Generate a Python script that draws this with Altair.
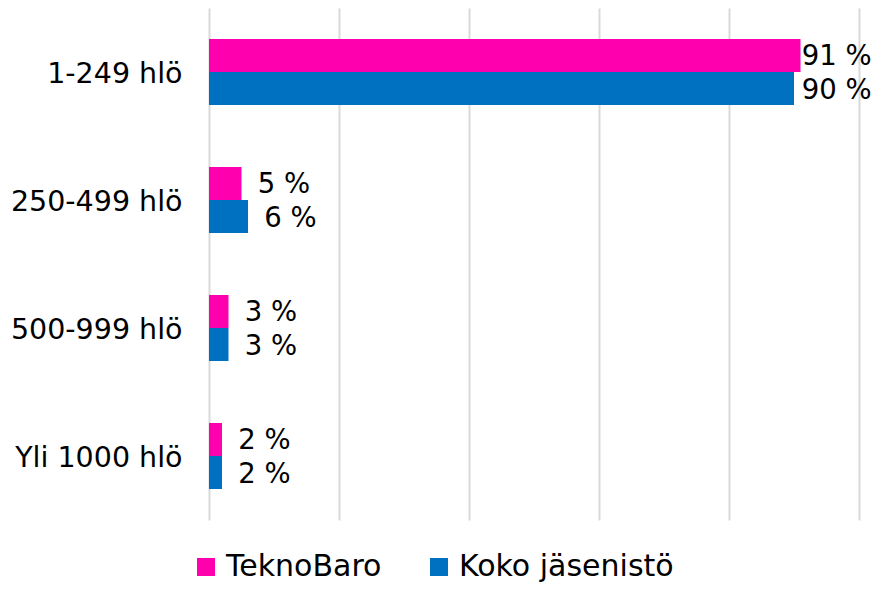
import altair as alt
import pandas as pd

categories = ["1-249 hlö", "250-499 hlö", "500-999 hlö", "Yli 1000 hlö"]
series = ["TeknoBaro", "Koko jäsenistö"]
teknobaro = [91, 5, 3, 2]
koko = [90, 6, 3, 2]
colors = ["#FF00AF", "#0070C0"]

rows = []
for c, a, b in zip(categories, teknobaro, koko):
    rows.append({"cat": c, "series": series[0], "v": a, "label": f"{a} %"})
    rows.append({"cat": c, "series": series[1], "v": b, "label": f"{b} %"})
df = pd.DataFrame(rows)

FONT = "DejaVu Sans"

y_axis = alt.Axis(domain=False, ticks=False, labelFontSize=28.5, labelFont=FONT,
                  labelColor="#000000", labelPadding=27, grid=False, labelLimit=0,
                  labelOffset=2)
x_axis = alt.Axis(values=[0, 20, 40, 60, 80, 100], labels=False, ticks=False,
                  domain=False, grid=True, gridColor="#D9D9D9", gridWidth=2)
x_scale = alt.Scale(domain=[0, 100], nice=False)
y_scale = alt.Scale(paddingInner=0.484, paddingOuter=0.242)

bars = alt.Chart(df).mark_bar(size=33).encode(
    x=alt.X("v:Q", scale=x_scale, title=None, axis=x_axis),
    y=alt.Y("cat:N", sort=categories, title=None, scale=y_scale, axis=y_axis),
    yOffset=alt.YOffset("series:N", sort=series, scale=alt.Scale(paddingInner=0, paddingOuter=0)),
    color=alt.Color("series:N", sort=series,
                    scale=alt.Scale(domain=series, range=colors),
                    legend=alt.Legend(title=None, orient="none", direction="horizontal",
                                      legendX=-18, legendY=544, symbolType="square",
                                      symbolSize=324, symbolStrokeWidth=0, labelFontSize=30,
                                      labelFont=FONT, labelColor="#000000", labelOffset=5,
                                      columnPadding=42, symbolOpacity=1, labelLimit=0)),
)

labels = alt.Chart(df).transform_calculate(
    lx="min(datum.v + 2.5, 91.2)"
).mark_text(align="left", baseline="middle", fontSize=27.5, font=FONT, color="#000000", dy=2).encode(
    x=alt.X("lx:Q", scale=x_scale, title=None, axis=x_axis),
    y=alt.Y("cat:N", sort=categories, title=None, scale=y_scale, axis=y_axis),
    yOffset=alt.YOffset("series:N", sort=series),
    text="label:N",
)

chart = alt.layer(bars, labels).properties(
    width=650, height=512,
    padding={"left": 201, "top": 0, "right": 15, "bottom": 63},
    autosize=alt.AutoSizeParams(type="none"),
    background="#FFFFFF",
).configure_view(stroke="transparent", strokeWidth=0)

chart.save("out.html", embed_options={"renderer": "svg", "actions": False})
